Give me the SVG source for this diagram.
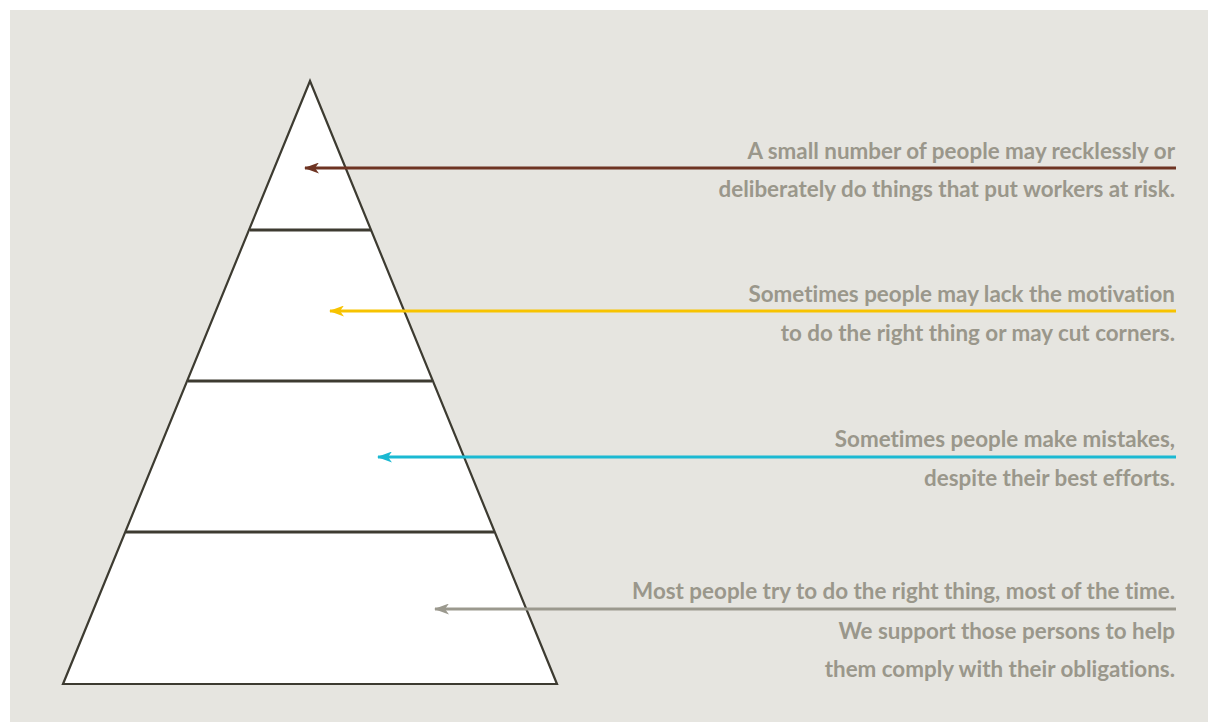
<svg xmlns="http://www.w3.org/2000/svg" width="1208" height="722" viewBox="0 0 1208 722">
<defs>
<style>
.lbl{font-family:Lato,"Open Sans","Liberation Sans",sans-serif;font-weight:700;font-size:22.4px;fill:#9a978b;text-anchor:end;font-variant-ligatures:none;font-feature-settings:"liga" 0,"dlig" 0}
.tier{fill:#ffffff;stroke:none}
.edge{fill:none;stroke:#3d3b31;stroke-width:2.2;stroke-linejoin:miter}
.div{stroke:#3d3b31;stroke-width:3}
.arr{stroke-width:3;fill:none}
</style>
<marker id="mBrown" markerWidth="15" markerHeight="11" refX="14" refY="5.5" orient="auto" markerUnits="userSpaceOnUse"><path d="M0,0 L15,5.5 L0,11 L4,5.5 Z" fill="#6e3423"/></marker>
<marker id="mYellow" markerWidth="15" markerHeight="11" refX="14" refY="5.5" orient="auto" markerUnits="userSpaceOnUse"><path d="M0,0 L15,5.5 L0,11 L4,5.5 Z" fill="#f7c300"/></marker>
<marker id="mCyan" markerWidth="15" markerHeight="11" refX="14" refY="5.5" orient="auto" markerUnits="userSpaceOnUse"><path d="M0,0 L15,5.5 L0,11 L4,5.5 Z" fill="#1bb9d2"/></marker>
<marker id="mGray" markerWidth="15" markerHeight="11" refX="14" refY="5.5" orient="auto" markerUnits="userSpaceOnUse"><path d="M0,0 L15,5.5 L0,11 L4,5.5 Z" fill="#9b998e"/></marker>
</defs>
<rect x="0" y="0" width="1208" height="722" fill="#ffffff"/>
<rect x="10" y="10" width="1198" height="712" fill="#e6e5e0"/>
<g id="pyramid">
<polygon class="tier" points="310,81 557,684 63,684"/>
<g id="tier1"><line class="div" x1="250" y1="230" x2="371" y2="230"/></g>
<g id="tier2"><line class="div" x1="188" y1="381" x2="432" y2="381"/></g>
<g id="tier3"><line class="div" x1="126" y1="532" x2="494" y2="532"/></g>
<polygon class="edge" points="310,81 557,684 63,684"/>
</g>
<g id="connectors">
<line class="arr" x1="1176" y1="168" x2="305" y2="168" stroke="#6e3423" marker-end="url(#mBrown)"/>
<line class="arr" x1="1176" y1="311" x2="330" y2="311" stroke="#f7c300" marker-end="url(#mYellow)"/>
<line class="arr" x1="1176" y1="457" x2="378" y2="457" stroke="#1bb9d2" marker-end="url(#mCyan)"/>
<line class="arr" x1="1176" y1="609" x2="435" y2="609" stroke="#9b998e" marker-end="url(#mGray)"/>
</g>
<g id="label1">
<text class="lbl" x="1175" y="159">A small number of people may recklessly or</text>
<text class="lbl" x="1175" y="197">deliberately do things that put workers at risk.</text>
</g>
<g id="label2">
<text class="lbl" x="1175" y="302">Sometimes people may lack the motivation</text>
<text class="lbl" x="1175" y="341">to do the right thing or may cut corners.</text>
</g>
<g id="label3">
<text class="lbl" x="1175" y="447">Sometimes people make mistakes,</text>
<text class="lbl" x="1175" y="486">despite their best efforts.</text>
</g>
<g id="label4">
<text class="lbl" x="1175" y="599">Most people try to do the right thing, most of the time.</text>
<text class="lbl" x="1175" y="639">We support those persons to help</text>
<text class="lbl" x="1175" y="677">them comply with their obligations.</text>
</g>
</svg>
